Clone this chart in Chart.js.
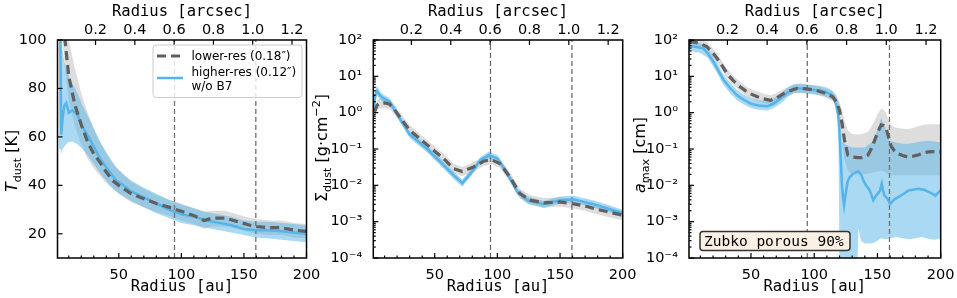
<!DOCTYPE html>
<html lang="en">
<head>
<meta charset="UTF-8">
<title>Dust temperature, surface density and maximum grain size</title>
<script src="https://cdn.jsdelivr.net/npm/chart.js@4"></script>
<style>
  body { margin: 0; background: #fff; }
  #wrap { position: relative; width: 957px; height: 298px; }
  #wrap canvas { position: absolute; left: 0; top: 0; }
</style>
</head>
<body>
<div id="wrap">
  <canvas id="tdust" width="957" height="298"></canvas>
  <canvas id="sigma" width="957" height="298"></canvas>
  <canvas id="amax" width="957" height="298"></canvas>
</div>
<script>
// axes shared by all panels
const auTicks = [50, 100, 150, 200];
const arcsecTicks = [0.2, 0.4, 0.6, 0.8, 1.0, 1.2];
const auPerArcsec = 157;
const gapRadii = [94.5, 159.5];
const tempTicks = [20, 40, 60, 80, 100];
const logTicks = [1e-4, 1e-3, 1e-2, 1e-1, 1, 10, 100];

// panel 1: dust temperature [K]
const tRadLow = [3, 5, 7, 10, 15, 20, 25, 30, 35, 40, 45, 50, 60, 70, 80, 90, 100, 110, 118, 125, 135, 145, 155, 160, 170, 180, 190, 200];
const tLow    = [130, 112, 100, 85, 73, 65, 58, 53, 49.5, 45.5, 42, 40, 36.5, 34.5, 32.5, 31, 29.3, 27.5, 25.5, 26.5, 26.5, 25, 23.5, 23, 22.5, 22.5, 21.5, 21];
const tLowUp  = [140, 125, 115, 100, 88, 78, 70, 63, 58, 53, 49, 46, 41.5, 38.5, 36, 34, 32.5, 30.5, 29, 29.5, 29.5, 28, 26.5, 26, 25.5, 25.5, 24.5, 24];
const tLowLo  = [115, 100, 88, 75, 64, 57, 51, 47, 44, 41, 38.5, 36.5, 33, 31, 29, 27.5, 25.5, 24, 22, 23, 23, 22, 20.5, 20, 19.5, 19.5, 18.5, 18];

const tRadHigh = [2, 3.3, 4, 5, 6.5, 8, 10, 13, 17, 21, 27, 35, 42, 48, 55, 60, 70, 80, 90, 100, 110, 120, 130, 140, 150, 160, 170, 180, 190, 200];
const tHigh    = [115, 100, 61, 67, 73, 74, 70, 71, 69, 64, 59, 51, 46, 42, 39.5, 37.5, 35, 32.5, 30, 28, 27, 25.5, 24.5, 23.5, 22, 21.5, 21.5, 21, 20.5, 20];
const tHighUp  = [120, 110, 102, 96, 91, 88, 85, 82, 78, 73, 67, 58, 52, 47.5, 44, 42, 39, 36.5, 34, 32, 30.5, 29, 28, 27, 25.5, 25, 25, 24.5, 24, 23.5];
const tHighLo  = [55, 55, 53, 55, 56, 57, 58, 58, 57, 55, 51, 45, 40.5, 37.5, 35, 33.5, 31, 28.5, 26.5, 24.5, 23.5, 22.5, 21.5, 20.5, 19.5, 18.5, 18, 17.5, 17, 16.5];

// panel 2: dust surface density [g cm^-2]
const sRadLow = [2, 4, 6, 10, 14, 18, 22, 30, 44, 57, 65, 72, 81, 89, 95, 102, 110, 118, 126, 137, 150, 161, 170, 177, 190, 200];
const sLow    = [1.05, 1.6, 1.8, 1.85, 1.7, 1.2, 0.77, 0.33, 0.13, 0.055, 0.029, 0.024, 0.032, 0.046, 0.051, 0.04, 0.017, 0.0059, 0.0039, 0.0033, 0.0035, 0.0031, 0.0027, 0.0023, 0.0018, 0.0015];
const sLowUp  = [1.42, 2.16, 2.43, 2.5, 2.3, 1.62, 1.04, 0.45, 0.175, 0.074, 0.039, 0.032, 0.043, 0.062, 0.069, 0.054, 0.023, 0.008, 0.0053, 0.0045, 0.0047, 0.0042, 0.0036, 0.0031, 0.0024, 0.002];
const sLowLo  = [0.78, 1.19, 1.33, 1.37, 1.26, 0.89, 0.57, 0.244, 0.096, 0.041, 0.0215, 0.0178, 0.0237, 0.034, 0.038, 0.03, 0.0126, 0.0044, 0.0029, 0.0024, 0.0026, 0.0023, 0.002, 0.0017, 0.0013, 0.0011];

const sRadHigh = [1.5, 2.5, 4, 7, 10, 14, 18, 22, 30, 44, 57, 65, 72, 78.5, 86.5, 93, 100, 108, 116, 124, 137, 150, 161, 177, 190, 200];
const sHigh    = [1.3, 3.0, 3.9, 2.8, 2.4, 2.0, 1.2, 0.71, 0.25, 0.1, 0.036, 0.019, 0.0115, 0.021, 0.049, 0.068, 0.055, 0.021, 0.0066, 0.0039, 0.003, 0.0039, 0.0041, 0.003, 0.0022, 0.0017];
const sHighUp  = [1.7, 4.2, 5.5, 3.6, 3.0, 2.5, 1.5, 0.88, 0.31, 0.125, 0.045, 0.024, 0.0145, 0.026, 0.06, 0.084, 0.068, 0.026, 0.0082, 0.0049, 0.0037, 0.0049, 0.0052, 0.0038, 0.0028, 0.0021];
const sHighLo  = [1.0, 2.2, 2.9, 2.2, 1.9, 1.6, 0.96, 0.57, 0.2, 0.08, 0.029, 0.015, 0.0092, 0.017, 0.039, 0.054, 0.044, 0.017, 0.0053, 0.0031, 0.0024, 0.0031, 0.0033, 0.0024, 0.0018, 0.00136];

// panel 3: maximum grain size [cm]
const aRadLow = [1, 4.4, 10, 15, 19, 23, 27, 31, 36, 41.6, 48, 55, 60, 65.5, 70, 76, 81, 86.7, 92, 97, 102, 108, 114.6, 117.5, 120, 122, 124, 126.6, 130, 134.5, 138, 142.5, 145, 147.7, 150, 153, 155, 157, 159, 161, 163.5, 166, 170, 174, 178, 182, 186, 190, 195, 200];
const aLow    = [95, 89, 79, 66, 48, 32, 20, 12, 7.6, 5.1, 3.5, 2.75, 2.4, 2.2, 2.5, 3.4, 4.0, 4.7, 4.6, 4.4, 4.1, 3.5, 2.75, 2.0, 1.17, 0.5, 0.17, 0.068, 0.06, 0.058, 0.058, 0.068, 0.1, 0.17, 0.28, 0.46, 0.44, 0.36, 0.2, 0.115, 0.089, 0.074, 0.066, 0.06, 0.063, 0.068, 0.076, 0.083, 0.085, 0.083];
const aLowUp  = [130, 120, 105, 88, 64, 43, 27, 16.5, 10.3, 6.9, 4.8, 3.8, 3.3, 3.0, 3.4, 4.5, 5.3, 6.1, 6.0, 5.8, 5.4, 4.7, 3.8, 3.0, 2.0, 1.2, 0.6, 0.32, 0.26, 0.25, 0.26, 0.3, 0.4, 0.6, 0.9, 1.3, 1.2, 0.9, 0.6, 0.45, 0.4, 0.38, 0.36, 0.35, 0.38, 0.42, 0.46, 0.48, 0.48, 0.48];
const aLowLo  = [72, 68, 60, 50, 36, 24, 15, 9, 5.8, 3.9, 2.7, 2.1, 1.85, 1.7, 1.9, 2.6, 3.1, 3.6, 3.5, 3.4, 3.1, 2.7, 2.1, 1.3, 0.5, 0.15, 0.05, 0.025, 0.02, 0.02, 0.02, 0.021, 0.022, 0.023, 0.024, 0.025, 0.024, 0.022, 0.02, 0.019, 0.019, 0.019, 0.019, 0.019, 0.019, 0.019, 0.019, 0.019, 0.019, 0.019];

const aRadHigh = [1, 4.4, 8, 12.4, 16, 20.4, 24, 28.4, 33, 39, 44, 49.6, 56, 62.9, 68, 73.5, 79, 84, 89, 94.7, 100, 105, 110, 113, 116, 117.5, 119, 120, 121, 122, 123, 123.6, 125, 126.3, 128, 130.8, 134.8, 137, 138.8, 141, 144, 146.7, 148.5, 150.7, 152, 153.4, 154.5, 155.5, 157.5, 160, 163, 166.7, 170, 174.6, 178, 182.5, 186.5, 190.5, 193, 195.8, 198, 200];
const aHigh    = [66, 66, 63, 59, 42, 25, 14.8, 7.9, 5.0, 3.0, 2.3, 1.78, 1.58, 1.51, 1.78, 2.45, 3.55, 4.7, 4.6, 4.4, 4.2, 4.0, 3.6, 3.2, 2.24, 1.58, 0.79, 0.27, 0.05, 0.0089, 0.004, 0.0028, 0.0063, 0.0123, 0.0166, 0.0209, 0.0245, 0.02, 0.0138, 0.01, 0.0072, 0.0039, 0.005, 0.0062, 0.0071, 0.0112, 0.0071, 0.0052, 0.0045, 0.0031, 0.004, 0.0048, 0.0056, 0.0072, 0.0076, 0.0081, 0.0076, 0.0066, 0.006, 0.0052, 0.0063, 0.0072];

const aBandRad = [1, 4.4, 10, 16, 20, 24, 28, 33, 39, 44, 50, 56, 63, 68, 74, 79, 84, 89, 95, 100, 105, 110, 114, 117, 119, 120, 121, 122, 125, 130, 134, 135, 137, 140, 145, 148, 150, 153, 156, 160, 165, 170, 175, 180, 185, 190, 195, 200];
const aHighUp  = [90, 88, 82, 60, 36, 21, 11.5, 7, 4.2, 3.2, 2.5, 2.2, 2.1, 2.5, 3.4, 4.9, 6.2, 6.3, 6.0, 5.7, 5.4, 4.9, 4.2, 3.0, 2.0, 1.5, 0.4, 0.16, 0.13, 0.11, 0.11, 0.11, 0.11, 0.11, 0.15, 0.22, 0.35, 0.7, 0.4, 0.17, 0.15, 0.14, 0.14, 0.15, 0.16, 0.17, 0.16, 0.15];
const aHighLo  = [50, 48, 44, 32, 19, 11, 6, 3.6, 2.2, 1.7, 1.35, 1.2, 1.15, 1.35, 1.85, 2.7, 3.5, 3.5, 3.3, 3.2, 3.0, 2.7, 2.3, 1.7, 0.9, 5e-5, 5e-5, 5e-5, 5e-5, 5e-5, 5e-5, 6.5e-4, 3e-4, 2.5e-4, 2.5e-4, 2.7e-4, 3e-4, 3.5e-4, 3.3e-4, 3.5e-4, 3.8e-4, 3.5e-4, 3.3e-4, 3.5e-4, 3.8e-4, 3.4e-4, 3.2e-4, 3.5e-4];

const SANS = 'DejaVu Sans';
const MONO = 'DejaVu Sans Mono';
const BLUE = '#56b4e9';
const DARK = '#606060';
const tickFont = { family: SANS, size: 14.5 };
const titleFont = { family: MONO, size: 15.5 };

const pts = (xs, ys) => xs.map((x, i) => ({ x: x, y: ys[i] }));

function band(xs, up, lo, color, order) {
  return [
    { data: pts(xs, up), fill: '+1', backgroundColor: color, borderColor: 'transparent', borderWidth: 0, pointRadius: 0, order: order },
    { data: pts(xs, lo), fill: false, borderColor: 'transparent', borderWidth: 0, pointRadius: 0, order: order - 1 }
  ];
}

function datasets(low, high, yMin, yMax) {
  const vlines = gapRadii.map(r => ({
    data: [{ x: r, y: yMin }, { x: r, y: yMax }], borderColor: '#707070', borderWidth: 1.3,
    borderDash: [5, 3], pointRadius: 0, fill: false, order: 3
  }));
  return [
    ...band(low.x, low.up, low.lo, 'rgba(170,170,170,0.4)', 7),
    ...band(high.bx || high.x, high.up, high.lo, 'rgba(86,180,233,0.5)', 5),
    ...vlines,
    { data: pts(high.x, high.y), borderColor: BLUE, borderWidth: 2.5, pointRadius: 0, fill: false, order: 1 },
    { data: pts(low.x, low.y), borderColor: DARK, borderWidth: 3.2, borderDash: [9, 5], pointRadius: 0, fill: false, order: 0 }
  ];
}

const SUP = { '-': '\u207b', '0': '\u2070', '1': '\u00b9', '2': '\u00b2', '3': '\u00b3', '4': '\u2074' };
const powLabel = v => '10' + String(Math.round(Math.log10(v))).split('').map(c => SUP[c]).join('');

function drawRuns(ctx, runs, x, y, size) {
  const fontOf = r => (r.it ? 'italic ' : '') + (r.sub || r.sup ? size * 0.7 : size) + 'px "' + SANS + '"';
  let total = 0;
  runs.forEach(r => { ctx.font = fontOf(r); total += ctx.measureText(r.t).width; });
  ctx.save();
  ctx.translate(x, y);
  ctx.rotate(-Math.PI / 2);
  ctx.fillStyle = '#000';
  ctx.textBaseline = 'alphabetic';
  let pos = -total / 2;
  runs.forEach(r => {
    ctx.font = fontOf(r);
    const dy = r.sub ? 0.22 * size : r.sup ? -0.42 * size : 0;
    ctx.fillText(r.t, pos, dy);
    pos += ctx.measureText(r.t).width;
  });
  ctx.restore();
}

function roundBox(ctx, x, y, w, h, r) {
  ctx.beginPath();
  ctx.roundRect(x, y, w, h, r);
}

const decor = {
  id: 'decor',
  afterDraw(chart, args, opts) {
    const { ctx, chartArea: a, scales } = chart;
    ctx.save();
    ctx.strokeStyle = '#000';
    ctx.lineWidth = 1.2;
    const tick = (x1, y1, x2, y2) => { ctx.beginPath(); ctx.moveTo(x1, y1); ctx.lineTo(x2, y2); ctx.stroke(); };
    auTicks.forEach(v => { const x = scales.x.getPixelForValue(v); tick(x, a.bottom, x, a.bottom - 5); });
    for (let v = 10; v < 200; v += 10) {
      if (v % 50) { const x = scales.x.getPixelForValue(v); tick(x, a.bottom, x, a.bottom - 2.5); }
    }
    arcsecTicks.forEach(v => { const x = scales.x2.getPixelForValue(v); tick(x, a.top, x, a.top + 5); });
    scales.y.ticks.forEach(t => { const y = scales.y.getPixelForValue(t.value); tick(a.left, y, a.left + 5, y); });
    if (opts.logMinor) {
      for (let k = -4; k < 2; k++) {
        for (let m = 2; m < 10; m++) {
          const y = scales.y.getPixelForValue(m * Math.pow(10, k));
          tick(a.left, y, a.left + 2.5, y);
        }
      }
    }
    ctx.lineWidth = 1.5;
    ctx.strokeRect(a.left, a.top, a.right - a.left, a.bottom - a.top);

    drawRuns(ctx, opts.yTitle, opts.titleX, opts.titleY, 16);

    if (opts.legend) {
      roundBox(ctx, 153, 45, 149, 52.5, 3);
      ctx.fillStyle = 'rgba(255,255,255,0.8)';
      ctx.fill();
      ctx.strokeStyle = '#cccccc';
      ctx.lineWidth = 1;
      ctx.stroke();
      ctx.lineWidth = 3.2;
      ctx.strokeStyle = DARK;
      ctx.setLineDash([9, 5]);
      tick(157, 56, 182, 56);
      ctx.setLineDash([]);
      ctx.lineWidth = 2.5;
      ctx.strokeStyle = BLUE;
      tick(157, 78, 183, 78);
      ctx.fillStyle = '#000';
      ctx.font = '12px "' + SANS + '"';
      opts.legend.forEach((s, i) => ctx.fillText(s, 191.5, [60, 75.5, 89.5][i]));
    }
    if (opts.note) {
      roundBox(ctx, 700, 231.5, 150, 19, 3);
      ctx.fillStyle = 'rgb(251,240,228)';
      ctx.fill();
      ctx.strokeStyle = '#333';
      ctx.lineWidth = 1.5;
      ctx.stroke();
      ctx.fillStyle = '#000';
      ctx.font = '14.5px "' + MONO + '"';
      ctx.fillText(opts.note, 704, 245.5);
    }
    ctx.restore();
  }
};

function makePanel(id, cfg) {
  const isLog = cfg.log;
  new Chart(document.getElementById(id), {
    type: 'line',
    data: { datasets: cfg.datasets },
    options: {
      responsive: false,
      animation: false,
      devicePixelRatio: 1,
      layout: { padding: { left: cfg.padLeft, right: cfg.padRight, top: 0, bottom: 0 } },
      scales: {
        x: {
          type: 'linear', position: 'bottom', min: 1, max: 200,
          afterBuildTicks: s => { s.ticks = auTicks.map(v => ({ value: v })); },
          afterFit: s => { s.height = 40; },
          grid: { display: false }, border: { display: false },
          ticks: { font: tickFont, color: '#000', padding: 1, maxRotation: 0, autoSkip: false },
          title: { display: true, text: 'Radius [au]', font: titleFont, color: '#000', padding: { top: 0, bottom: 2 } }
        },
        x2: {
          type: 'linear', position: 'top', min: 1 / auPerArcsec, max: 200 / auPerArcsec,
          afterBuildTicks: s => { s.ticks = arcsecTicks.map(v => ({ value: v })); },
          afterFit: s => { s.height = 40; },
          grid: { display: false }, border: { display: false },
          ticks: { font: tickFont, color: '#000', padding: -7, maxRotation: 0, autoSkip: false, callback: v => v.toFixed(1) },
          title: { display: true, text: 'Radius [arcsec]', font: titleFont, color: '#000', padding: { top: 3, bottom: 0 } }
        },
        y: {
          type: isLog ? 'logarithmic' : 'linear',
          min: cfg.yMin, max: cfg.yMax,
          afterBuildTicks: s => { s.ticks = cfg.yTicks.map(v => ({ value: v })); },
          afterFit: s => { s.width = cfg.yWidth; },
          grid: { display: false }, border: { display: false },
          ticks: { font: tickFont, color: '#000', padding: 3, autoSkip: false, callback: isLog ? powLabel : (v => String(v)) }
        }
      },
      plugins: {
        legend: { display: false },
        tooltip: { enabled: false },
        decor: cfg.decor
      }
    },
    plugins: [decor]
  });
}

makePanel('tdust', {
  padLeft: 0, padRight: 957 - 306.5, yWidth: 57.5,
  yMin: 10, yMax: 100, yTicks: tempTicks, log: false,
  datasets: datasets(
    { x: tRadLow, y: tLow, up: tLowUp, lo: tLowLo },
    { x: tRadHigh, y: tHigh, up: tHighUp, lo: tHighLo }, 10, 100),
  decor: {
    yTitle: [{ t: 'T', it: true }, { t: 'dust', sub: true }, { t: ' [K]' }],
    titleX: 17, titleY: 161,
    legend: ['lower-res (0.18\u2033)', 'higher-res (0.12\u2033)', 'w/o B7']
  }
});

makePanel('sigma', {
  padLeft: 310, padRight: 957 - 622.7, yWidth: 63.3,
  yMin: 1e-4, yMax: 100, yTicks: logTicks, log: true,
  datasets: datasets(
    { x: sRadLow, y: sLow, up: sLowUp, lo: sLowLo },
    { x: sRadHigh, y: sHigh, up: sHighUp, lo: sHighLo }, 1e-4, 100),
  decor: {
    yTitle: [{ t: '\u03a3' }, { t: 'dust', sub: true }, { t: ' [g\u00b7cm' }, { t: '\u22122', sup: true }, { t: ']' }],
    titleX: 327, titleY: 148, logMinor: true
  }
});

makePanel('amax', {
  padLeft: 626, padRight: 957 - 940.7, yWidth: 63,
  yMin: 1e-4, yMax: 100, yTicks: logTicks, log: true,
  datasets: datasets(
    { x: aRadLow, y: aLow, up: aLowUp, lo: aLowLo },
    { x: aRadHigh, y: aHigh, bx: aBandRad, up: aHighUp, lo: aHighLo }, 1e-4, 100),
  decor: {
    yTitle: [{ t: 'a', it: true }, { t: 'max', sub: true }, { t: ' [cm]' }],
    titleX: 645, titleY: 155, logMinor: true,
    note: 'Zubko porous 90%'
  }
});
</script>
</body>
</html>
